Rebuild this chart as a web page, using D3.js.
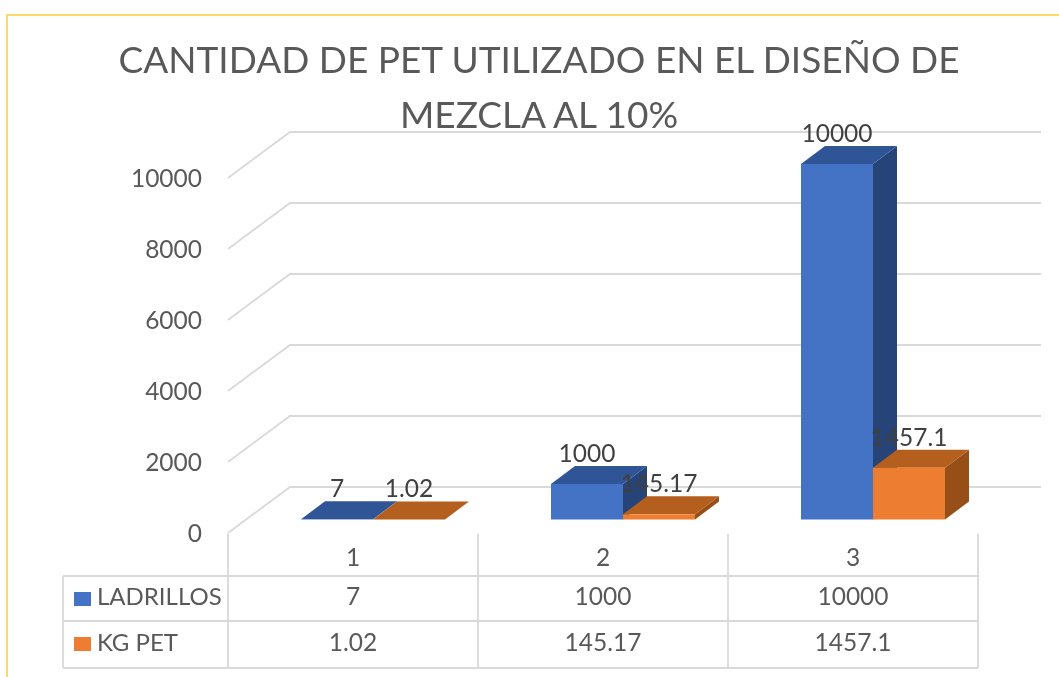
<!DOCTYPE html>
<html><head><meta charset="utf-8">
<script src="https://cdnjs.cloudflare.com/ajax/libs/d3/7.8.5/d3.min.js"></script>
<style>html,body{margin:0;padding:0;background:#fff}svg{display:block;filter:blur(0.55px)}text{font-family:Lato,"Open Sans",sans-serif;fill:#595959}</style>
</head><body><div id="c"></div>
<script>
const categories = ["1","2","3"];
const seriesNames = ["LADRILLOS","KG PET"];
const ladrillos = [7,1000,10000];
const kgPet = [1.02,145.17,1457.1];
const ladrillosLabels = ["7","1000","10000"];
const kgPetLabels = ["1.02","145.17","1457.1"];
const ticks = [0,2000,4000,6000,8000,10000];
const titleLines = ["CANTIDAD DE PET UTILIZADO EN EL DISEÑO DE","MEZCLA AL 10%"];
const colors = [
  {front:"#4472C4",top:"#2F5597",side:"#264478"},
  {front:"#ED7D31",top:"#B45F1E",side:"#984F17"}
];

const W=1059,H=677;
const svg=d3.select("#c").append("svg").attr("width",W).attr("height",H);
const grid="#d9d9d9";

// frame
svg.append("path").attr("d","M7,677V15H1059").attr("fill","none").attr("stroke","#FFD966").attr("stroke-width",2);

// title
svg.append("g").selectAll("text").data(titleLines).join("text")
  .attr("x",539).attr("y",(d,i)=>i?128:73).attr("text-anchor","middle")
  .attr("font-size",37).style("fill","#595959").text(d=>d);

// 3D geometry
const wallDx=62, wallDy=46;
const frontY=d3.scaleLinear().domain([0,10000]).range([533,178]);
const x=d3.scaleBand().domain(categories).range([228,978]);
const gridG=svg.append("g").attr("fill","none").attr("stroke",grid).attr("stroke-width",1.8);
gridG.selectAll("path").data(ticks).join("path")
  .attr("d",t=>{const y=frontY(t);return `M228,${y}L${228+wallDx},${y-wallDy}H1041`;});

// value axis labels
const axisG=svg.append("g").attr("transform","translate(202,0.5)")
  .call(d3.axisLeft(frontY).tickValues(ticks).tickSize(0).tickPadding(0).tickFormat(d3.format("d")));
axisG.select(".domain").remove();
axisG.selectAll("text").attr("font-size",24.5).style("font-family","Lato");

// bars
const barY=d3.scaleLinear().domain([0,10000]).range([519.5,164]);
const barInner=d3.scaleBand().domain([0,1]).range([73,217]);
const depthX=24, depthY=18;
const rows=categories.flatMap((c,i)=>[
  {c,s:0,v:ladrillos[i],l:ladrillosLabels[i]},
  {c,s:1,v:kgPet[i],l:kgPetLabels[i]}]);
const bars=svg.append("g").selectAll("g").data(rows).join("g");
const bx=d=>x(d.c)+barInner(d.s), bw=barInner.bandwidth();
const poly=(pts)=>pts.map(p=>p.join(",")).join(" ");
bars.append("polygon").attr("fill",d=>colors[d.s].side).attr("points",d=>{
  const r=bx(d)+bw,t=barY(d.v),b=barY(0);
  return poly([[r,t],[r+depthX,t-depthY],[r+depthX,b-depthY],[r,b]]);});
bars.append("polygon").attr("fill",d=>colors[d.s].top).attr("points",d=>{
  const l=bx(d),r=l+bw,t=barY(d.v);
  return poly([[l,t],[l+depthX,t-depthY],[r+depthX,t-depthY],[r,t]]);});
bars.append("rect").attr("fill",d=>colors[d.s].front)
  .attr("x",bx).attr("width",bw).attr("y",d=>barY(d.v)).attr("height",d=>barY(0)-barY(d.v));
// data labels
svg.append("g").selectAll("text").data(rows).join("text")
  .attr("x",d=>bx(d)+bw/2)
  .attr("y",d=>barY(d.v)-depthY-4).attr("text-anchor","middle")
  .attr("font-size",24.5).style("fill","#404040").text(d=>d.l);

// data table
const tl=63, tr=978, ys=[576,621,668];
const tg=svg.append("g").attr("stroke",grid).attr("stroke-width",1.8);
[228,478,728,978].forEach(v=>tg.append("line").attr("x1",v).attr("x2",v).attr("y1",534).attr("y2",668));
tg.append("line").attr("x1",tl).attr("x2",tl).attr("y1",576).attr("y2",668);
ys.forEach(v=>tg.append("line").attr("x1",tl).attr("x2",tr).attr("y1",v).attr("y2",v));
const cx=c=>x(c)+x.bandwidth()/2;
const t=svg.append("g").attr("text-anchor","middle").attr("font-size",24.5);
categories.forEach((c,i)=>{
  t.append("text").attr("x",cx(c)).attr("y",566).text(c);
  t.append("text").attr("x",cx(c)).attr("y",604.5).text(ladrillosLabels[i]);
  t.append("text").attr("x",cx(c)).attr("y",650.5).text(kgPetLabels[i]);
});
seriesNames.forEach((n,i)=>{
  const yc=[599,644][i];
  svg.append("rect").attr("x",74).attr("y",yc-7).attr("width",17).attr("height",14).attr("fill",colors[i].front);
  svg.append("text").attr("x",97).attr("y",[605,650.5][i]).attr("font-size",24).text(n);
});
</script></body></html>
